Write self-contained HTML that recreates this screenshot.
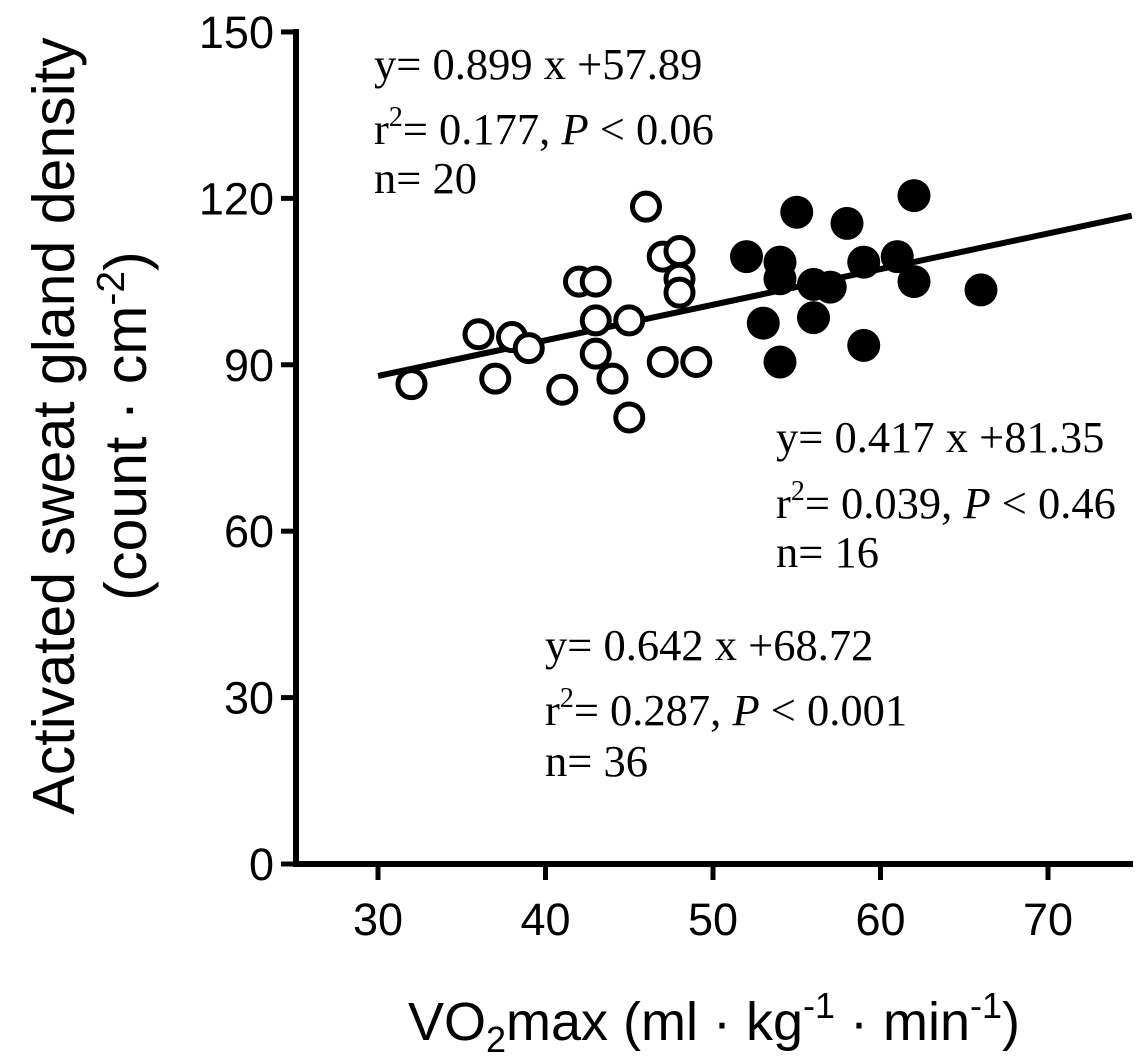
<!DOCTYPE html>
<html><head><meta charset="utf-8"><style>
html,body{margin:0;padding:0;background:#fff}
svg{display:block}
.t{font-family:"Liberation Sans",sans-serif;fill:#000}
.a{font-family:"Liberation Serif",serif;fill:#000}
</style></head><body>
<svg id="c" width="1148" height="1056"></svg>
<script>
const openX=[32,36,37,38,39,41,42,43,43,43,44,45,45,46,47,47,48,48,48,49];
const openY=[86.5,95.5,87.5,95,93,85.5,105,105,98,92,87.5,98,80.5,118.5,109.5,90.5,110.5,105.5,103,90.5];
const fillX=[52,53,54,54,54,55,56,56,57,58,59,59,61,62,62,66];
const fillY=[109.5,97.5,108.5,105.5,90.5,117.5,104.5,98.5,104,115.5,108.5,93.5,109.5,120.5,105,103.5];
const xTicks=[30,40,50,60,70];
const yTicks=[0,30,60,90,120,150];
const slope=0.642, intercept=68.72;
const NS="http://www.w3.org/2000/svg";
const svg=document.getElementById('c');
const sx=v=>378+(v-30)*16.75;
const sy=v=>864-v*5.547;
function el(t,a,txt){const e=document.createElementNS(NS,t);for(const k in a)e.setAttribute(k,a[k]);if(txt!==undefined)e.textContent=txt;svg.appendChild(e);return e;}
let e;
e=el('line',{x1:296,y1:29,x2:296,y2:867,stroke:'#000','stroke-width':6});


e=el('line',{x1:293,y1:864,x2:1133,y2:864,stroke:'#000','stroke-width':6});


yTicks.forEach(v=>{
 e=el('line',{x1:281,y1:sy(v),x2:296,y2:sy(v),stroke:'#000','stroke-width':5});
 
 
 e=el('text',{x:274,y:sy(v)+16,'text-anchor':'end',class:'t','font-size':45},v);
 
 
});
xTicks.forEach(v=>{
 e=el('line',{x1:sx(v),y1:864,x2:sx(v),y2:880,stroke:'#000','stroke-width':5});
 
 
 e=el('text',{x:sx(v),y:935,'text-anchor':'middle',class:'t','font-size':45},v);
 
 
});
e=el('line',{x1:sx(30),y1:sy(slope*30+intercept),x2:sx(75),y2:sy(slope*75+intercept),stroke:'#000','stroke-width':6});


openX.forEach((x,i)=>{
 e=el('circle',{cx:sx(x),cy:sy(openY[i]),r:13.5,fill:'#fff',stroke:'#000','stroke-width':5});
 
 
});
fillX.forEach((x,i)=>{
 e=el('circle',{cx:sx(x),cy:sy(fillY[i]),r:16.5,fill:'#000'});
 
 
});
</script>
<svg style="position:absolute;left:0;top:0" width="1148" height="1056">
<g class="a" font-size="44.5">
<text x="374" y="79">y= 0.899 x +57.89</text>
<text x="374" y="144">r<tspan dy="-18" font-size="28">2</tspan><tspan dy="18">= 0.177, </tspan><tspan font-style="italic">P</tspan> &lt; 0.06</text>
<text x="374" y="193">n= 20</text>
<text x="776" y="452">y= 0.417 x +81.35</text>
<text x="776" y="518">r<tspan dy="-18" font-size="28">2</tspan><tspan dy="18">= 0.039, </tspan><tspan font-style="italic">P</tspan> &lt; 0.46</text>
<text x="776" y="567">n= 16</text>
<text x="545" y="660">y= 0.642 x +68.72</text>
<text x="545" y="725">r<tspan dy="-18" font-size="28">2</tspan><tspan dy="18">= 0.287, </tspan><tspan font-style="italic">P</tspan> &lt; 0.001</text>
<text x="545" y="776">n= 36</text>
</g>
<text class="t" x="714" y="1040" text-anchor="middle" font-size="54">VO<tspan dy="12" font-size="36">2</tspan><tspan dy="-12">max (ml · kg</tspan><tspan dy="-22" font-size="36">-1</tspan><tspan dy="22"> · min</tspan><tspan dy="-22" font-size="36">-1</tspan><tspan dy="22">)</tspan></text>
<g transform="translate(0,426) rotate(-90)">
<text class="t" x="0" y="74" text-anchor="middle" font-size="59">Activated sweat gland density</text>
<text class="t" x="0" y="146" text-anchor="middle" font-size="59">(count · cm<tspan dy="-22" font-size="39">-2</tspan><tspan dy="22">)</tspan></text>
</g>
</svg>
</body></html>
